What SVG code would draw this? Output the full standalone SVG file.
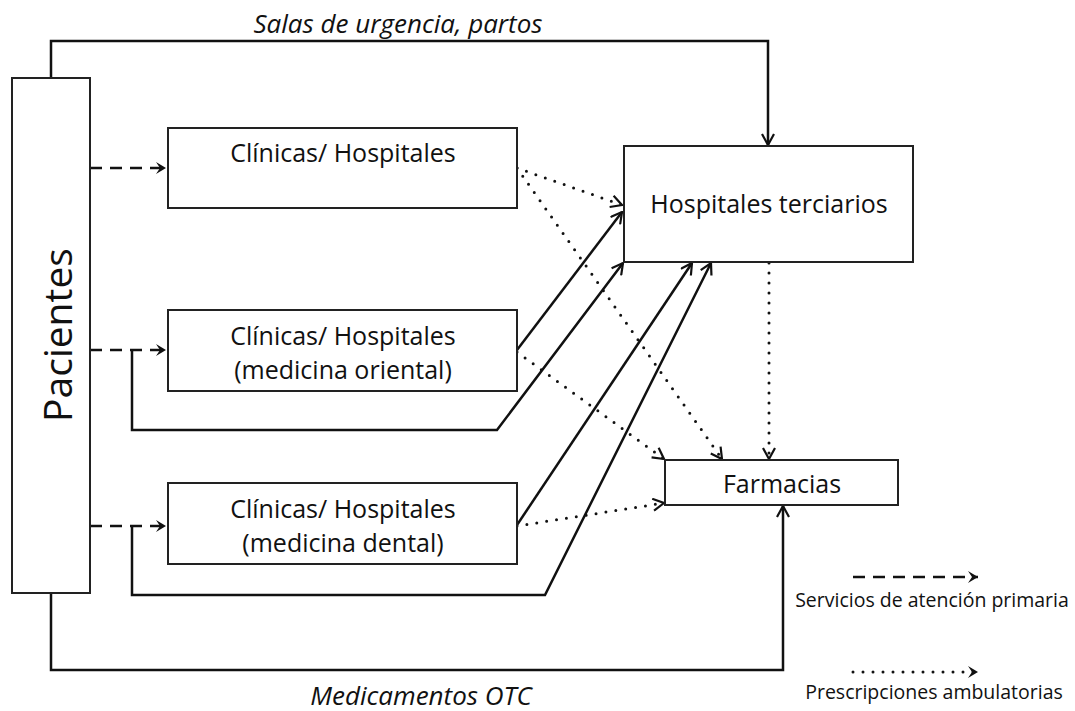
<svg xmlns="http://www.w3.org/2000/svg" width="1075" height="711" viewBox="0 0 1075 711">
<style>
.box{fill:#fff;stroke:#222;stroke-width:2}
.t{font-family:"Open Sans",Lato,sans-serif;fill:#111;text-anchor:middle}
.bt{font-size:25px}
.lbl{font-family:"Open Sans",Lato,sans-serif;font-style:italic;fill:#111;text-anchor:middle;font-size:26px}
.lg{font-size:19.5px}
.solid{fill:none;stroke:#111;stroke-width:2.5}
.dash{fill:none;stroke:#111;stroke-width:2.5;stroke-dasharray:12 8}
.dot{fill:none;stroke:#111;stroke-width:3;stroke-dasharray:0 10;stroke-linecap:round}
</style>
<defs>
<marker id="open" viewBox="0 0 14 14" refX="13" refY="7" markerWidth="14" markerHeight="14" markerUnits="userSpaceOnUse" orient="auto">
<polyline points="2,1 13,7 2,13" fill="none" stroke="#111" stroke-width="2.2"/>
</marker>
<marker id="chev" viewBox="0 0 14 14" refX="13" refY="7" markerWidth="14" markerHeight="14" markerUnits="userSpaceOnUse" orient="auto">
<polygon points="3,1 13,7 3,13 7,7" fill="#111"/>
</marker>
</defs>
<g id="connectors">
<path class="solid" d="M51,78 V41 H768 V145" marker-end="url(#open)"/>
<path class="solid" d="M51,593 V670 H783 V506" marker-end="url(#open)"/>
<path class="dash" d="M90,168 H166" marker-end="url(#chev)"/>
<path class="dash" d="M90,350 H166" marker-end="url(#chev)"/>
<path class="dash" d="M90,526 H166" marker-end="url(#chev)"/>
<path class="solid" d="M132,350 V430 H497 L623,263" marker-end="url(#open)"/>
<path class="solid" d="M132,526 V595 H545 L711,263" marker-end="url(#open)"/>
<path class="solid" d="M517,350 L622,212" marker-end="url(#open)"/>
<path class="solid" d="M517,525 L692,263" marker-end="url(#open)"/>
<path class="dot" d="M517,168 L622,205" marker-end="url(#open)"/>
<path class="dot" d="M517,168 L722,459" marker-end="url(#open)"/>
<path class="dot" d="M517,352 L664,459" marker-end="url(#open)"/>
<path class="dot" d="M517,526 L664,503" marker-end="url(#open)"/>
<path class="dot" d="M769,263 V459" marker-end="url(#open)"/>
<text class="lbl" x="398" y="33">Salas de urgencia, partos</text>
<text class="lbl" x="421" y="705">Medicamentos OTC</text>
</g>
<g id="pacientes">
<rect class="box" x="12" y="78" width="78" height="515"/>
<text class="t" font-size="39" transform="translate(72,335) rotate(-90)">Pacientes</text>
</g>
<g id="clinicas1">
<rect class="box" x="168" y="128" width="349" height="80"/>
<text class="t bt" x="343" y="162">Clínicas/ Hospitales</text>
</g>
<g id="clinicas2">
<rect class="box" x="168" y="310" width="349" height="81"/>
<text class="t bt" x="343" y="345">Clínicas/ Hospitales</text>
<text class="t bt" x="343" y="379">(medicina oriental)</text>
</g>
<g id="clinicas3">
<rect class="box" x="168" y="483" width="349" height="81"/>
<text class="t bt" x="343" y="518">Clínicas/ Hospitales</text>
<text class="t bt" x="343" y="552">(medicina dental)</text>
</g>
<g id="hospitales">
<rect class="box" x="624" y="146" width="289" height="116"/>
<text class="t bt" x="769" y="213">Hospitales terciarios</text>
</g>
<g id="farmacias">
<rect class="box" x="665" y="460" width="233" height="45"/>
<text class="t bt" x="782" y="493">Farmacias</text>
</g>
<g id="legend">
<path class="dash" d="M853,577 H978" marker-end="url(#chev)"/>
<text class="t lg" x="932" y="607">Servicios de atención primaria</text>
<path class="dot" d="M853,672 H978" marker-end="url(#chev)"/>
<text class="t lg" x="934" y="699">Prescripciones ambulatorias</text>
</g>
</svg>
